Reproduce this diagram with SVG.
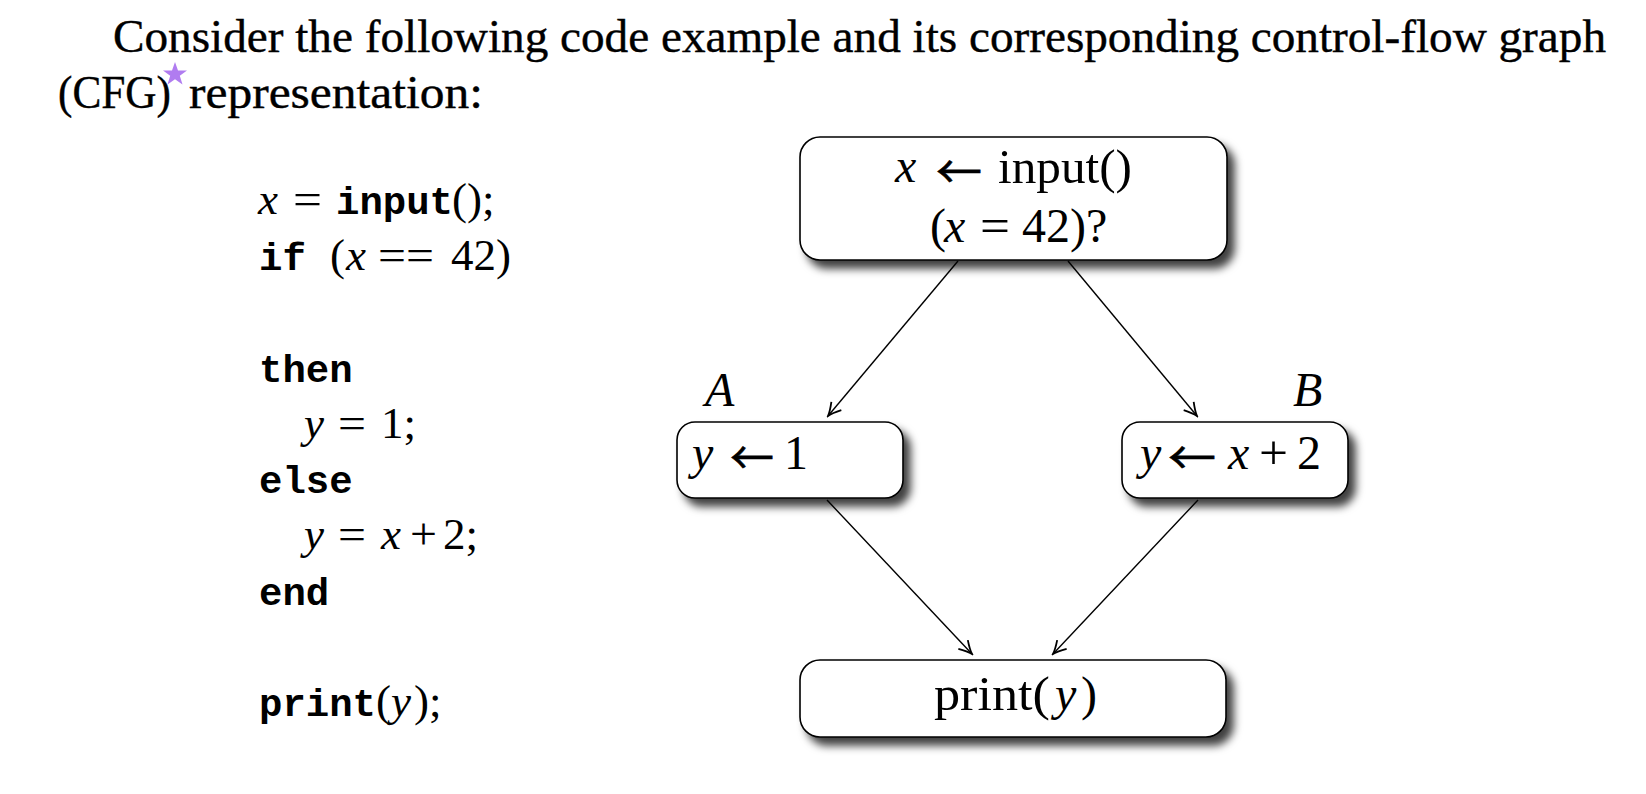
<svg xmlns="http://www.w3.org/2000/svg" width="1646" height="794" viewBox="0 0 1646 794">
<style>
.para{font-family:"Liberation Serif",serif;font-size:46px;fill:#000;stroke:#000;stroke-width:0.4}
.tt{font-family:"Liberation Mono",monospace;font-size:39px;font-weight:bold;fill:#000}
.m{font-family:"Liberation Serif",serif;font-size:45px;fill:#000}
.mi{font-family:"Liberation Serif",serif;font-size:45px;font-style:italic;fill:#000}
.n{font-family:"Liberation Serif",serif;font-size:48px;fill:#000}
.ni{font-family:"Liberation Serif",serif;font-size:48px;font-style:italic;fill:#000}
.arr{font-family:"Noto Sans CJK SC",sans-serif;font-size:46px;fill:#000;stroke:#000;stroke-width:0.6}
.i{font-style:italic}
.box{fill:#fff;stroke:#000;stroke-width:1.6;filter:url(#sh)}
.edge{fill:none;stroke:#000;stroke-width:1.4;marker-end:url(#ah)}
</style>
<defs>
<filter id="sh" x="-10%" y="-20%" width="130%" height="160%">
<feDropShadow dx="7" dy="8" stdDeviation="4.5" flood-color="#000" flood-opacity="0.75"/>
</filter>
<marker id="ah" viewBox="-14 -8 16 16" refX="0" refY="0" markerWidth="16" markerHeight="16" markerUnits="userSpaceOnUse" orient="auto">
<path d="M -13,-6.5 Q -5,-1.5 0,0 Q -5,1.5 -13,6.5" fill="none" stroke="#000" stroke-width="1.8"/>
</marker>
</defs>
<rect width="1646" height="794" fill="#fff"/>

<g id="paragraph">
<text class="para" x="113" y="52" textLength="1493" lengthAdjust="spacingAndGlyphs">Consider the following code example and its corresponding control-flow graph</text>
<text class="para" x="58" y="108" textLength="113" lengthAdjust="spacingAndGlyphs">(CFG)</text>
<polygon points="175,62 178,70.5 187,70.5 179.8,75.8 182.5,84.5 175,79.2 167.5,84.5 170.2,75.8 163,70.5 172,70.5" fill="#b07cf0"/>
<text class="para" x="189" y="108" textLength="294" lengthAdjust="spacingAndGlyphs">representation:</text>
</g>

<g id="code">
<text class="mi" x="258" y="214">x</text>
<text class="m" x="293" y="214" textLength="29" lengthAdjust="spacingAndGlyphs">=</text>
<text y="214"><tspan class="tt" x="336">input</tspan><tspan class="m" x="452">();</tspan></text>
<text y="270"><tspan class="tt" x="259">if</tspan><tspan class="m" x="330">(</tspan><tspan class="mi" x="346">x</tspan></text>
<text class="m" x="378" y="270" textLength="28" lengthAdjust="spacingAndGlyphs">=</text>
<text class="m" x="406" y="270" textLength="28" lengthAdjust="spacingAndGlyphs">=</text>
<text class="m" x="451" y="270">42)</text>
<text class="tt" x="259" y="382">then</text>
<text class="mi" x="304" y="438">y</text>
<text class="m" x="338" y="438" textLength="28" lengthAdjust="spacingAndGlyphs">=</text>
<text class="m" x="381" y="438">1;</text>
<text class="tt" x="259" y="493">else</text>
<text class="mi" x="304" y="549">y</text>
<text class="m" x="338" y="549" textLength="28" lengthAdjust="spacingAndGlyphs">=</text>
<text class="mi" x="381" y="549">x</text>
<text class="m" x="410" y="549" textLength="27" lengthAdjust="spacingAndGlyphs">+</text>
<text class="m" x="443" y="549">2;</text>
<text class="tt" x="259" y="605">end</text>
<text y="716"><tspan class="tt" x="259">print</tspan><tspan class="m" x="376">(</tspan><tspan class="mi" x="391">y</tspan><tspan class="m" x="414">);</tspan></text>
</g>

<g id="connectors">
<line class="edge" x1="958" y1="261" x2="828" y2="416"/>
<line class="edge" x1="1068" y1="261" x2="1197" y2="416"/>
<line class="edge" x1="827" y1="500" x2="972" y2="654"/>
<line class="edge" x1="1198" y1="500" x2="1053" y2="654"/>
</g>

<g id="node-entry">
<rect class="box" x="800" y="137" width="427" height="123" rx="20"/>
<text class="ni" x="895" y="182">x</text>
<text class="arr" x="936" y="188" textLength="46" lengthAdjust="spacingAndGlyphs">←</text>
<text class="n" x="998" y="183" textLength="134" lengthAdjust="spacingAndGlyphs">input()</text>
<text class="n" y="242"><tspan x="930">(</tspan><tspan class="i" x="944">x</tspan></text>
<text class="n" x="980" y="242" textLength="30" lengthAdjust="spacingAndGlyphs">=</text>
<text class="n" x="1022" y="242">42)?</text>
</g>

<g id="node-A">
<text class="ni" x="705" y="406">A</text>
<rect class="box" x="677" y="422" width="226" height="76" rx="18"/>
<text class="ni" x="692" y="469">y</text>
<text class="arr" x="730" y="474" textLength="44" lengthAdjust="spacingAndGlyphs">←</text>
<text class="n" x="784" y="469">1</text>
</g>

<g id="node-B">
<text class="ni" x="1293" y="406">B</text>
<rect class="box" x="1122" y="422" width="226" height="76" rx="18"/>
<text class="ni" x="1140" y="469">y</text>
<text class="arr" x="1168" y="474" textLength="48" lengthAdjust="spacingAndGlyphs">←</text>
<text class="ni" x="1228" y="469">x</text>
<text class="n" x="1259" y="469" textLength="29" lengthAdjust="spacingAndGlyphs">+</text>
<text class="n" x="1297" y="469">2</text>
</g>

<g id="node-print">
<rect class="box" x="800" y="660" width="426" height="77" rx="20"/>
<text class="n" x="934" y="710" textLength="116" lengthAdjust="spacingAndGlyphs">print(</text>
<text class="n" y="710"><tspan class="i" x="1055">y</tspan><tspan x="1081">)</tspan></text>
</g>
</svg>
